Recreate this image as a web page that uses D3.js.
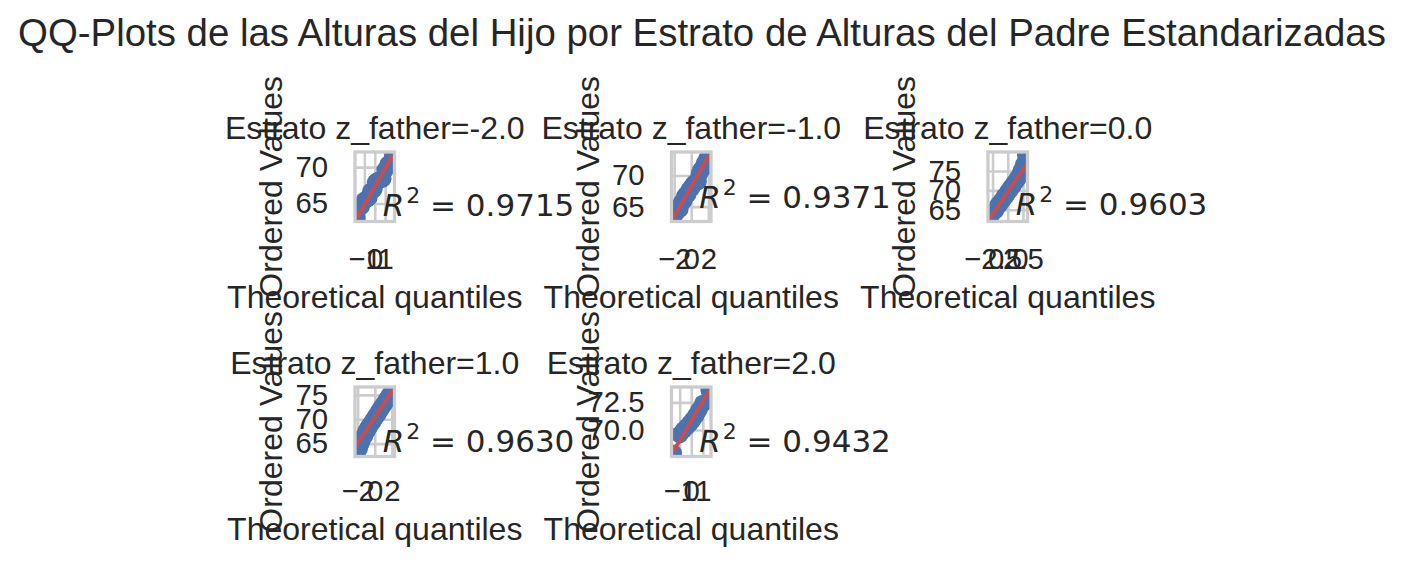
<!DOCTYPE html>
<html><head><meta charset="utf-8">
<script src="https://cdn.jsdelivr.net/npm/d3@7"></script>
<style>body{margin:0;background:#fff} svg{display:block}</style>
</head><body>
<svg id="c" width="1404" height="567"></svg>
<script>
// ---------------- data ----------------
const suptitle = "QQ-Plots de las Alturas del Hijo por Estrato de Alturas del Padre Estandarizadas";
const strata = ["-2.0", "-1.0", "0.0", "1.0", "2.0"];
const r2Values = ["0.9715", "0.9371", "0.9603", "0.9630", "0.9432"];

// theoretical quantiles / ordered values per stratum
const q1 = [-1.73,-1.30,-1.00,-0.77,-0.57,-0.39,-0.23,-0.08,0.08,0.23,0.39,0.57,0.77,1.00,1.30,1.73];
const v1 = [63.0,64.6,65.4,65.6,65.8,66.6,66.8,67.0,67.9,68.1,68.2,68.3,68.4,69.6,70.4,71.5];

const q2 = [-2.1,-1.83,-1.64,-1.49,-1.34,-1.18,-1.03,-0.88,-0.73,-0.57,-0.42,-0.27,-0.11,0.04,0.19,0.34,0.5,0.65,0.8,0.95,1.11,1.26,1.41,1.57,1.72,1.87,2.1];
const v2 = [63.3,63.9,64.4,64.5,64.6,65.5,65.8,66.0,66.7,66.9,67.0,67.6,67.9,68.0,68.5,68.7,68.9,69.0,69.1,70.3,70.8,71.0,71.4,72.0,72.3,72.8,73.1];

const q3 = [-2.95,-2.6,-2.3,-2.05,-1.8,-1.55,-1.3,-1.05,-0.8,-0.55,-0.3,-0.1,0.1,0.3,0.55,0.8,1.05,1.3,1.55,1.8,2.05,2.3,2.6,2.95];
const v3 = [63.0,63.9,64.6,64.8,65.6,66.3,66.5,67.3,67.6,68.4,68.6,69.3,69.8,70.0,70.8,71.1,71.9,72.2,73.0,73.4,74.3,75.3,76.6,79.1];

const q4 = [-2.1,-1.83,-1.64,-1.49,-1.34,-1.18,-1.03,-0.88,-0.73,-0.57,-0.42,-0.27,-0.11,0.04,0.19,0.34,0.5,0.65,0.8,0.95,1.11,1.26,1.41,1.57,1.72,1.87,2.1];
const v4 = [63.0,63.9,64.9,65.7,66.4,66.6,67.5,67.7,68.4,68.6,69.2,69.4,70.0,70.3,70.8,71.0,71.7,71.9,72.5,72.7,73.3,73.5,74.1,74.4,74.9,75.3,75.9];

const q5 = [-1.55,-1.0,-0.66,-0.38,-0.12,0.12,0.38,0.66,1.0,1.55];
const v5 = [67.9,69.6,70.0,70.3,70.6,70.9,71.3,71.8,72.4,73.6];

const fitSlope = [2.517, 2.42, 2.31, 2.67, 1.77];
const fitIntercept = [67.3, 68.2, 69.6, 70.35, 70.8];

const xTicks = [[-1,0,1], [-2,0,2], [-2.5,0,2.5], [-2,0,2], [-1,0,1]];
const yTicks = [[65,70], [65,70], [65,70,75], [65,70,75], [70,72.5]];
const xTickFmt = ["d","d",".1f","d","d"];
const yTickFmt = ["d","d","d","d",".1f"];

const quantiles = [q1,q2,q3,q4,q5];
const ordered = [v1,v2,v3,v4,v5];

// ---------------- layout ----------------
const colX = [355, 671.5, 988];
const rowY = [152, 387];
const W = 39.5, H = 69.5;
const r2Frac = [0.072, 0.19, 0.10, 0.07, 0.07];
const TXT = "#262626", GRID = "#cccccc", BLUE = "#4C72B0", RED = "#C44E52";
const SANS = "'Liberation Sans', Arial, sans-serif";

const svg = d3.select("#c");
svg.append("rect").attr("width",1404).attr("height",567).attr("fill","#fff");

svg.append("text").attr("x",702).attr("y",46).attr("text-anchor","middle")
  .attr("font-family",SANS).attr("font-size",38.4).attr("fill",TXT).text(suptitle);

function padExt(e){const r=e[1]-e[0]; return [e[0]-0.05*r, e[1]+0.05*r];}

strata.forEach((s,i)=>{
  const ox = colX[i%3], oy = rowY[Math.floor(i/3)];
  const q = quantiles[i], v = ordered[i];
  const xe = d3.extent(q);
  const lineY = xe.map(x=>fitIntercept[i]+fitSlope[i]*x);
  const ye = d3.extent(v.concat(lineY));
  const x = d3.scaleLinear().domain(padExt(xe)).range([0,W]);
  const y = d3.scaleLinear().domain(padExt(ye)).range([H,0]);
  const g = svg.append("g").attr("transform",`translate(${ox},${oy})`);
  const cid = "clip"+i;
  g.append("clipPath").attr("id",cid).append("rect").attr("width",W).attr("height",H);

  const gx = g.append("g").attr("transform",`translate(0,${H})`)
    .call(d3.axisBottom(x).tickValues(xTicks[i]).tickFormat(d3.format(xTickFmt[i]))
      .tickSizeInner(-H).tickSizeOuter(0).tickPadding(i>=3?24:27));
  const gy = g.append("g")
    .call(d3.axisLeft(y).tickValues(yTicks[i]).tickFormat(d3.format(yTickFmt[i]))
      .tickSizeInner(-W).tickSizeOuter(0).tickPadding(27));
  [gx,gy].forEach(a=>{
    a.select(".domain").remove();
    a.selectAll("line").attr("stroke",GRID).attr("stroke-width",2.6);
    a.selectAll("text").attr("font-family",SANS).attr("font-size",29.3).attr("fill",TXT);
  });

  const pg = g.append("g").attr("clip-path",`url(#${cid})`);
  pg.selectAll("circle").data(q.map((d,k)=>[d,v[k]])).join("circle")
    .attr("cx",d=>x(d[0])).attr("cy",d=>y(d[1])).attr("r",8.8).attr("fill",BLUE);
  pg.append("line").attr("x1",x(xe[0])).attr("y1",y(lineY[0])).attr("x2",x(xe[1])).attr("y2",y(lineY[1]))
    .attr("stroke",RED).attr("stroke-width",4);

  g.append("rect").attr("width",W).attr("height",H).attr("fill","none").attr("stroke",GRID).attr("stroke-width",3.3);

  g.append("text").attr("x",W/2).attr("y",-13).attr("text-anchor","middle")
    .attr("font-family",SANS).attr("font-size",32).attr("fill",TXT).text(`Estrato z_father=${s}`);
  g.append("text").attr("x",W/2).attr("y",H+(i>=3?83:86)).attr("text-anchor","middle")
    .attr("font-family",SANS).attr("font-size",32).attr("fill",TXT).text("Theoretical quantiles");
  g.append("text").attr("transform",`translate(-73,${H/2}) rotate(-90)`).attr("text-anchor","middle")
    .attr("font-family",SANS).attr("font-size",32).attr("fill",TXT).text("Ordered Values");

  const t = g.append("text").attr("x",0.7*W).attr("y",H*(1-r2Frac[i]))
    .attr("font-family","'DejaVu Sans', sans-serif").attr("font-size",31).attr("fill",TXT);
  t.append("tspan").attr("font-style","italic").text("R");
  t.append("tspan").attr("font-size",22).attr("dy",-13).attr("dx",2).text("2");
  t.append("tspan").attr("dy",13).text("\u00a0=\u00a0" + r2Values[i]);
});
</script>
</body></html>
